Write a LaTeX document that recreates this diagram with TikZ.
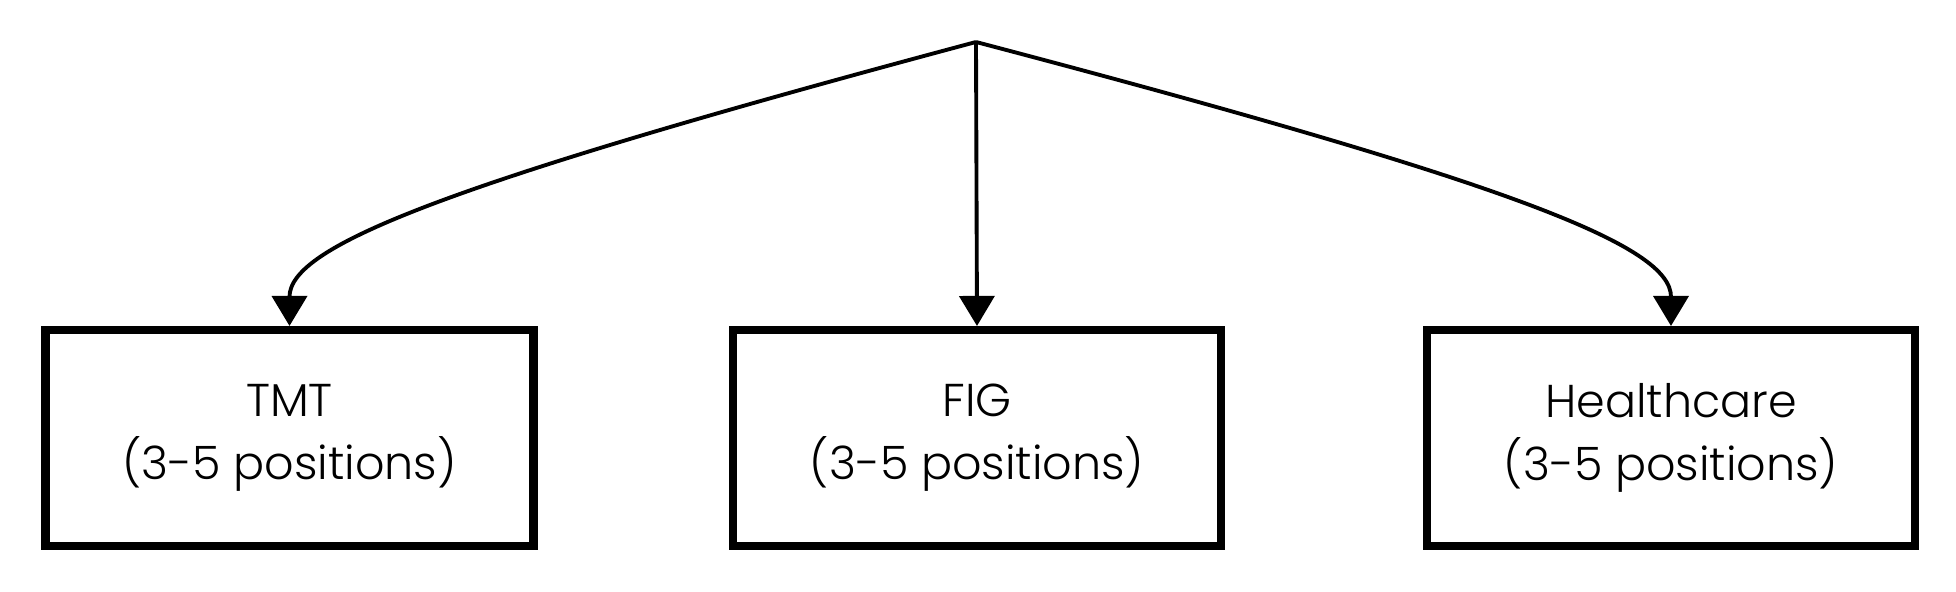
\documentclass[tikz,border=0pt]{standalone}
\usepackage{fontspec}
\setmainfont{Poppins Light}
\usetikzlibrary{arrows.meta}
\begin{document}
\begin{tikzpicture}[
    caixa/.style={draw, line width=2.3pt, minimum width=4.88cm, minimum height=2.16cm, align=center, font=\fontsize{13.1}{18}\selectfont},
    seta/.style={line width=1.1pt, -{Triangle[length=3mm,width=3.5mm]}}
  ]
    \useasboundingbox (0,0) rectangle (19.56,5.92); % Moldura
    \coordinate (topo) at (9.76,5.50); % Ponto de partida
    \node[caixa] (tmt) at (2.895,1.54) {TMT\\(3-5 positions)}; % Caixa esquerda
    \node[caixa] (fig) at (9.77,1.54) {FIG\\(3-5 positions)}; % Caixa central
    \node[caixa] (health) at (16.71,1.54) {Healthcare\\(3-5 positions)}; % Caixa direita
    \draw[seta] (topo) .. controls +(-5.31,-1.42) and +(0,0.8) .. (tmt.north); % Curva esquerda
    \draw[seta] (topo) -- (fig.north); % Reta central
    \draw[seta] (topo) .. controls +(5.4,-1.42) and +(0,0.8) .. (health.north); % Curva direita
\end{tikzpicture}
\end{document}
